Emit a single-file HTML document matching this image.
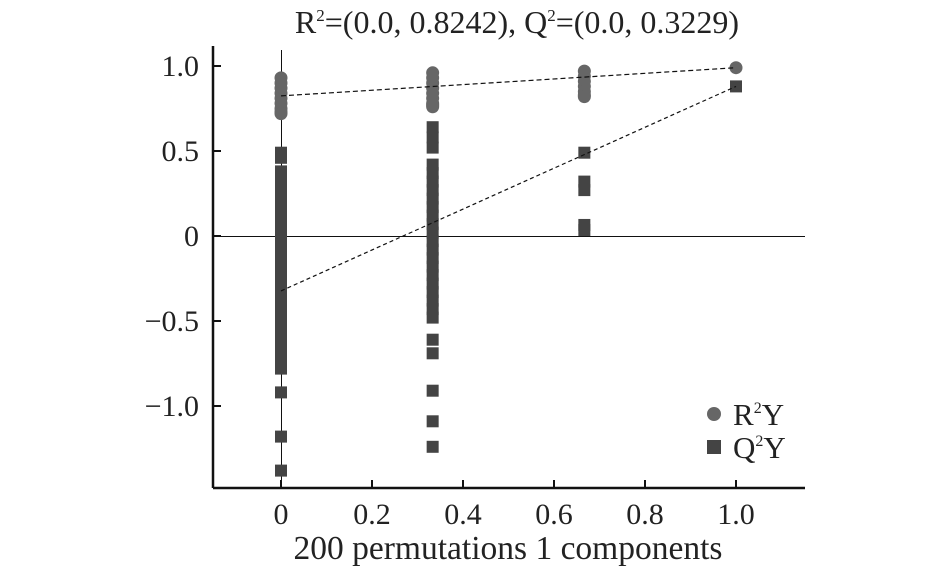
<!DOCTYPE html>
<html><head><meta charset="utf-8"><style>
body{margin:0;background:#fff}
svg{display:block}
text{font-family:"Liberation Serif","Times New Roman",serif}
</style></head><body>
<svg id="chart" width="945" height="568" viewBox="0 0 945 568" font-family="Liberation Serif, serif">
<text x="517" y="33" font-size="32" text-anchor="middle" fill="#222">R<tspan font-size="17" dy="-12">2</tspan><tspan dy="12">=(0.0, 0.8242), Q</tspan><tspan font-size="17" dy="-12">2</tspan><tspan dy="12">=(0.0, 0.3229)</tspan></text>
<g id="axes"></g>
<g id="marks"></g>
<g>
<circle cx="714" cy="414" r="7" fill="#666"/>
<text x="733" y="425" font-size="31" fill="#222">R<tspan font-size="16" dy="-12">2</tspan><tspan dy="12">Y</tspan></text>
<rect x="707" y="440" width="14" height="14" fill="#444"/>
<text x="733" y="458" font-size="31" fill="#222">Q<tspan font-size="16" dy="-12">2</tspan><tspan dy="12">Y</tspan></text>
</g>
<text x="508" y="559" font-size="33.5" text-anchor="middle" fill="#222">200 permutations 1 components</text>
</svg>
<script>
const xTicks=[0,0.2,0.4,0.6,0.8,1.0];
const xTickLabels=["0","0.2","0.4","0.6","0.8","1.0"];
const yTicks=[1.0,0.5,0,-0.5,-1.0];
const yTickLabels=["1.0","0.5","0","\u22120.5","\u22121.0"];
const r2X=[0,0,0,0,0,0,0,0,0,0.3333,0.3333,0.3333,0.3333,0.3333,0.3333,0.3333,0.3333,0.3333,0.6667,0.6667,0.6667,0.6667,0.6667,0.6667,0.6667,1];
const r2Y=[0.93,0.9,0.87,0.84,0.81,0.78,0.75,0.73,0.72,0.96,0.93,0.9,0.87,0.84,0.81,0.78,0.77,0.76,0.97,0.94,0.91,0.88,0.85,0.83,0.82,0.99];
const q2X=[0,0,0,0,0,0,0,0,0,0,0,0,0,0,0,0,0,0,0,0,0,0,0,0,0,0,0,0,0,
0.3333,0.3333,0.3333,0.3333,0.3333,0.3333,0.3333,0.3333,0.3333,0.3333,0.3333,0.3333,0.3333,0.3333,0.3333,0.3333,0.3333,0.3333,0.3333,0.3333,0.3333,0.3333,0.3333,0.3333,0.3333,0.3333,0.3333,
0.6667,0.6667,0.6667,0.6667,0.6667,1];
const q2Y=[0.49,0.46,0.38,0.33,0.28,0.23,0.18,0.13,0.08,0.03,-0.02,-0.07,-0.12,-0.17,-0.22,-0.27,-0.32,-0.37,-0.42,-0.47,-0.52,-0.57,-0.62,-0.67,-0.72,-0.78,-0.92,-1.18,-1.38,
0.64,0.58,0.52,0.42,0.37,0.32,0.27,0.22,0.17,0.12,0.07,0.02,-0.03,-0.08,-0.13,-0.18,-0.23,-0.28,-0.33,-0.38,-0.43,-0.48,-0.61,-0.69,-0.91,-1.09,-1.24,
0.49,0.32,0.27,0.065,0.035,0.88];
const r2Fit=[0.8242,0.99];
const q2Fit=[-0.3229,0.88];
const L=213,R=805,T=46,B=488;
const sx=v=>281+455*v, sy=v=>236-170*v;
const NS="http://www.w3.org/2000/svg";
function mk(tag,attrs,parent){const e=document.createElementNS(NS,tag);for(const k in attrs)e.setAttribute(k,attrs[k]);parent.appendChild(e);return e;}
const axes=document.getElementById('axes'), marks=document.getElementById('marks');
let e;
e=mk('line',{x1:L,y1:T,x2:L,y2:B,stroke:'#111','stroke-width':2.5},axes);


e=mk('line',{x1:L,y1:B,x2:R,y2:B,stroke:'#111','stroke-width':2.5},axes);


e=mk('line',{x1:L,y1:sy(0)+0.5,x2:R,y2:sy(0)+0.5,stroke:'#111','stroke-width':1},axes);


e=mk('line',{x1:sx(0)+0.5,y1:T+4,x2:sx(0)+0.5,y2:B,stroke:'#111','stroke-width':1},axes);


yTicks.forEach((v,i)=>{
 e=mk('line',{x1:L,y1:sy(v),x2:L+8,y2:sy(v),stroke:'#111','stroke-width':2},axes);
 
 
 e=mk('text',{x:L-14,y:sy(v)+10,'font-size':30,'text-anchor':'end',fill:'#222'},axes);
 e.textContent=yTickLabels[i];
 
 
});
xTicks.forEach((v,i)=>{
 e=mk('line',{x1:sx(v),y1:B,x2:sx(v),y2:B-8,stroke:'#111','stroke-width':2},axes);
 
 
 e=mk('text',{x:sx(v),y:B+36,'font-size':30,'text-anchor':'middle',fill:'#222'},axes);
 e.textContent=xTickLabels[i];
 
 
});
r2X.forEach((x,i)=>{
 e=mk('circle',{cx:sx(x),cy:sy(r2Y[i]),r:6.5,fill:'#666'},marks);
 
 
});
q2X.forEach((x,i)=>{
 e=mk('rect',{x:sx(x)-6,y:sy(q2Y[i])-6,width:12,height:12,fill:'#444'},marks);
 
 
});
e=mk('line',{x1:sx(0),y1:sy(r2Fit[0]),x2:sx(1),y2:sy(r2Fit[1]),stroke:'#111','stroke-width':1.2,'stroke-dasharray':'5,3'},marks);


e=mk('line',{x1:sx(0),y1:sy(q2Fit[0]),x2:sx(1),y2:sy(q2Fit[1]),stroke:'#111','stroke-width':1.2,'stroke-dasharray':'4,3'},marks);


</script>
</body></html>
